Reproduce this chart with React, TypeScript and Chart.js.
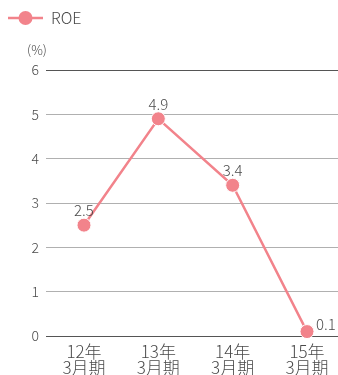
import React, { useEffect, useRef } from "react";
import { Chart, registerables } from "chart.js";

Chart.register(...registerables);

const periods: string[][] = [["12年", "3月期"], ["13年", "3月期"], ["14年", "3月期"], ["15年", "3月期"]];
const roe: number[] = [2.5, 4.9, 3.4, 0.1];
const yTicks: number[] = [0, 1, 2, 3, 4, 5, 6];
const seriesName = "ROE";
const unitLabel = "(%)";

const PINK = "#f2838b";
const TEXT = "#4a4a4a";
const FONT = "'Noto Sans CJK JP', 'Open Sans', sans-serif";

const decor = {
  id: "decor",
  afterDatasetsDraw(chart: any) {
    const { ctx } = chart;
    const meta = chart.getDatasetMeta(0);
    ctx.save();
    ctx.fillStyle = TEXT;
    ctx.font = `300 15px ${FONT}`;
    meta.data.forEach((pt: any, i: number) => {
      const label = roe[i].toFixed(1);
      if (i === roe.length - 1) {
        ctx.textAlign = "left";
        ctx.textBaseline = "middle";
        ctx.fillText(label, pt.x + 9, pt.y - 7);
      } else {
        ctx.textAlign = "center";
        ctx.textBaseline = "bottom";
        ctx.fillText(label, pt.x, pt.y - 7);
      }
    });
    // legend
    ctx.strokeStyle = PINK;
    ctx.lineWidth = 2.5;
    ctx.beginPath();
    ctx.moveTo(8, 18);
    ctx.lineTo(43, 18);
    ctx.stroke();
    ctx.fillStyle = PINK;
    ctx.beginPath();
    ctx.arc(25.5, 18, 7, 0, Math.PI * 2);
    ctx.fill();
    ctx.fillStyle = TEXT;
    ctx.font = `300 16px ${FONT}`;
    ctx.textAlign = "left";
    ctx.textBaseline = "middle";
    ctx.fillText(seriesName, 51, 18);
    // unit
    ctx.font = `300 13px ${FONT}`;
    ctx.textAlign = "center";
    ctx.fillText(unitLabel, 37, 50);
    ctx.restore();
  },
};

export default function App() {
  const ref = useRef<HTMLCanvasElement>(null);
  useEffect(() => {
    if (!ref.current) return;
    const chart = new Chart(ref.current, {
      type: "line",
      data: {
        datasets: [
          {
            label: seriesName,
            data: roe.map((v, i) => ({ x: i, y: v })),
            borderColor: PINK,
            backgroundColor: PINK,
            borderWidth: 2.5,
            pointRadius: 7,
            pointHoverRadius: 7,
            pointBackgroundColor: PINK,
            pointBorderColor: "#ffffff",
            pointBorderWidth: 1,
            tension: 0,
            clip: false,
          },
        ],
      },
      options: {
        animation: false,
        responsive: false,
        layout: { autoPadding: false, padding: { top: 70, right: 0, bottom: 0, left: 0 } },
        plugins: { legend: { display: false }, tooltip: { enabled: false } },
        scales: {
          x: {
            type: "linear",
            min: -0.511,
            max: 3.417,
            afterBuildTicks(scale: any) {
              scale.ticks = periods.map((_, i) => ({ value: i }));
            },
            afterFit(scale: any) {
              scale.height = 39;
              scale.paddingLeft = 0;
              scale.paddingRight = 0;
            },
            grid: { display: false, drawTicks: false },
            border: { display: false },
            ticks: {
              autoSkip: false,
              maxRotation: 0,
              padding: 8,
              color: TEXT,
              font: { family: FONT, size: 17, weight: "300", lineHeight: 0.92 },
              callback: (v: any) => periods[Number(v)] ?? "",
            },
          },
          y: {
            min: 0,
            max: 6,
            afterBuildTicks(scale: any) {
              scale.ticks = yTicks.map((v) => ({ value: v }));
            },
            afterFit(scale: any) {
              scale.width = 46;
              scale.paddingTop = 0;
              scale.paddingBottom = 0;
            },
            grid: {
              drawTicks: false,
              color: (c: any) => (c.tick && (c.tick.value === 0 || c.tick.value === 6) ? "#555555" : "#b0b0b0"),
              lineWidth: 1,
            },
            border: { display: false },
            ticks: {
              padding: 7,
              color: TEXT,
              font: { family: FONT, size: 14, weight: "300" },
            },
          },
        },
      },
      plugins: [decor],
    });
    return () => chart.destroy();
  }, []);
  return (
    <div style={{ position: "fixed", left: 0, top: 0 }}>
      <canvas ref={ref} width={338} height={375} style={{ display: "block", width: 338, height: 375 }} />
    </div>
  );
}
